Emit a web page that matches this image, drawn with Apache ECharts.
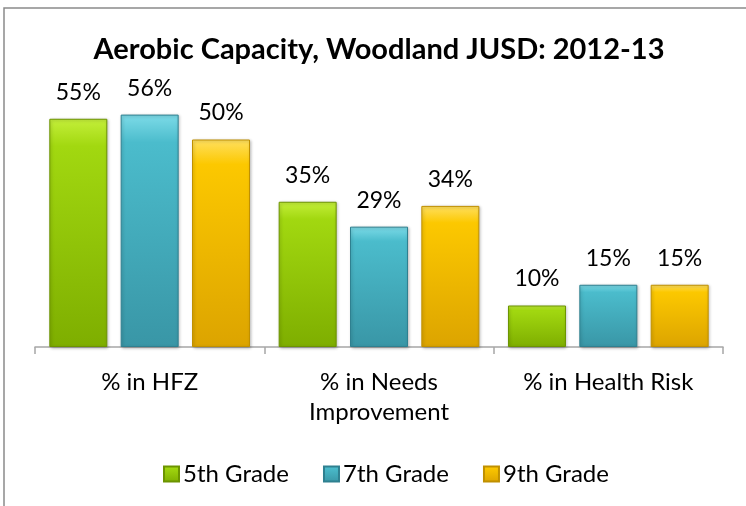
<!DOCTYPE html>
<html>
<head>
<meta charset="utf-8">
<script src="https://cdn.jsdelivr.net/npm/echarts@6/dist/echarts.min.js"></script>
<style>
html,body{margin:0;padding:0;background:#fff;}
#main{width:746px;height:506px;}
</style>
</head>
<body>
<div id="main"></div>
<script>
var categories = ['% in HFZ', '% in Needs\nImprovement', '% in Health Risk'];
var seriesNames = ['5th Grade', '7th Grade', '9th Grade'];
var grade5 = [55, 35, 10];
var grade7 = [56, 29, 15];
var grade9 = [50, 34, 15];

var FONT = 'Lato, "Open Sans", sans-serif';

function grad(top, mid, bottom) {
  return new echarts.graphic.LinearGradient(0, 0, 0, 1, [
    {offset: 0, color: top},
    {offset: 0.12, color: mid},
    {offset: 1, color: bottom}
  ]);
}
var palettes = [
  {fill: grad('#c4ef3a', '#a2d810', '#7eae00'), border: '#6c9400', legend: '#8cc000'},
  {fill: grad('#7ddbe8', '#4bbccc', '#3996a6'), border: '#2f8090', legend: '#45abbb'},
  {fill: grad('#ffe060', '#fcc800', '#dca400'), border: '#c09000', legend: '#f0b800'}
];
var dataSets = [grade5, grade7, grade9];

var series = dataSets.map(function (d, i) {
  return {
    name: seriesNames[i],
    type: 'bar',
    data: d,
    barWidth: 58,
    barGap: '23%',
    itemStyle: {
      color: palettes[i].fill,
      borderColor: palettes[i].border,
      borderWidth: 1,
      shadowColor: 'rgba(0,0,0,0.25)',
      shadowBlur: 3,
      shadowOffsetX: 1,
      shadowOffsetY: 1
    },
    label: {
      show: true,
      position: 'top',
      distance: 15,
      formatter: '{c}%',
      fontFamily: FONT,
      fontSize: 23,
      color: '#000'
    }
  };
});

var chart = echarts.init(document.getElementById('main'), null, {renderer: 'canvas'});
chart.setOption({
  animation: false,
  backgroundColor: '#fff',
  color: palettes.map(function (p) { return p.legend; }),
  title: {
    text: 'Aerobic Capacity, Woodland JUSD: 2012-13',
    left: 374,
    top: 30,
    textAlign: 'center',
    textStyle: {fontFamily: FONT, fontWeight: 'bold', fontSize: 29, color: '#000'}
  },
  legend: {
    data: seriesNames,
    left: 158,
    top: 457,
    itemWidth: 15,
    itemHeight: 15,
    itemGap: 34,
    icon: 'rect',
    textStyle: {fontFamily: FONT, fontSize: 24, color: '#000', padding: [0, 0, 0, -1]}
  },
  grid: {left: 35, right: 23, top: 98, bottom: 159},
  xAxis: {
    type: 'category',
    data: categories,
    axisLine: {show: true, lineStyle: {color: '#a6a6a6', width: 1.5}},
    axisTick: {show: true, length: 7, lineStyle: {color: '#a6a6a6', width: 1.5}},
    axisLabel: {
      fontFamily: FONT, fontSize: 24, color: '#000',
      margin: 20, lineHeight: 30, interval: 0
    }
  },
  yAxis: {
    type: 'value',
    min: 0,
    max: 60,
    show: false,
    splitLine: {show: false}
  },
  graphic: [{
    type: 'rect',
    shape: {x: 4, y: 8, width: 800, height: 600},
    style: {fill: 'none', stroke: '#8a8a8a', lineWidth: 1.5},
    silent: true,
    z: 100
  }],
  series: series
});
</script>
</body>
</html>
